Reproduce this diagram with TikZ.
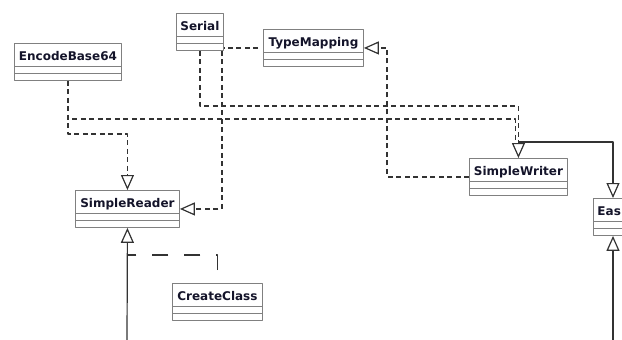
\documentclass[tikz,border=0pt]{standalone}
\usepackage{fontspec}
\setmainfont{DejaVu Sans}
\usetikzlibrary{arrows.meta}
\definecolor{boxgray}{HTML}{808080}
\definecolor{linegray}{HTML}{333333}
\definecolor{txt}{HTML}{14142A}
\begin{document}
\begin{tikzpicture}[x=1pt,y=-1pt,line join=round,line width=1.2pt,
	cls/.style={draw=boxgray,line width=.9pt,fill=white,anchor=north west,
		font=\bfseries\fontsize{12}{14}\selectfont,text=txt,minimum width=#1,
		inner xsep=3pt,inner ysep=0pt,text height=17pt,text depth=20pt,
		path picture={\draw[boxgray,line width=.9pt]
			([yshift=-23pt]path picture bounding box.north west)--([yshift=-23pt]path picture bounding box.north east)
			([yshift=-30pt]path picture bounding box.north west)--([yshift=-30pt]path picture bounding box.north east);}},
	dep/.style={draw=linegray,dash pattern=on 5pt off 3.5pt},
	gen/.style={draw=linegray,-{Triangle[open,fill=white,width=13pt,length=15pt]}}]
	\useasboundingbox (0,0) rectangle (622,340);
	\node[cls=47] (Serial) at (176,13) {Serial};
	\node[cls=107] (EncodeBase64) at (14,43) {EncodeBase64};
	\node[cls=100] (TypeMapping) at (263,29) {TypeMapping};
	\node[cls=98] (SimpleWriter) at (469,158) {SimpleWriter};
	\node[cls=104] (SimpleReader) at (75,190) {SimpleReader};
	\node[cls=90] (CreateClass) at (172,283) {CreateClass};
	\node[cls=60,text width=52pt,align=left,inner xsep=4pt] (Eas) at (593,198) {Eas};
	\coordinate (readbot) at (127,340);
	\coordinate (easbot) at (613,340);
	\draw[dep,shorten <=5pt] (TypeMapping.west)--(TypeMapping.west -| Serial.east);
	\draw[dep,gen] (Serial.south)--++(0,55)-|(SimpleWriter.north);
	\draw[dep,gen] ([xshift=-2pt]Serial.south east)|-(SimpleReader.east);
	\draw[dep] (EncodeBase64.south)--++(0,38)-|([xshift=-3pt,yshift=15pt]SimpleWriter.north);
	\draw[dep,gen] (EncodeBase64.south)--++(0,53)-|(SimpleReader.north);
	\draw[dep,gen] (SimpleWriter.west)--++(-82,0)|-(TypeMapping.east);
	\draw[gen] ([yshift=16pt]SimpleWriter.north)-|([xshift=20pt]Eas.north west);
	\draw[gen] (easbot)--([xshift=20pt]Eas.south west);
	\draw[gen] (readbot)--(SimpleReader.south);
	\draw[dep,dash pattern=on 16pt off 16pt,shorten <=13pt] (CreateClass.north)--++(0,-28)--++(-90,0);
\end{tikzpicture}
\end{document}
